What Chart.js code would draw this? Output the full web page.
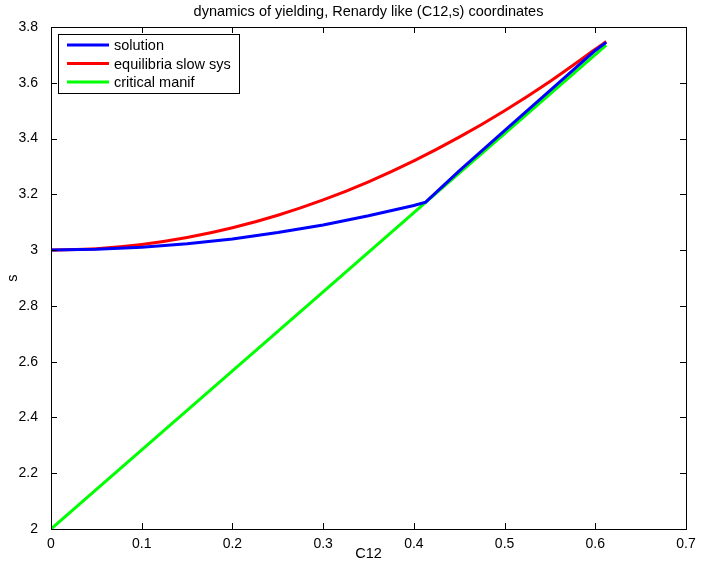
<!DOCTYPE html>
<html>
<head>
<meta charset="utf-8">
<script src="https://cdn.jsdelivr.net/npm/chart.js@4.4.0/dist/chart.umd.min.js"></script>
<style>
  body { margin: 0; background: #fff; }
  #wrap { width: 701px; height: 572px; }
</style>
</head>
<body>
<div id="wrap"><canvas id="myChart" width="701" height="572"></canvas></div>
<script>
// values
var solutionC12 = [0, 0.05, 0.1, 0.15, 0.2, 0.25, 0.3, 0.35, 0.4, 0.413, 0.45, 0.5, 0.55, 0.6, 0.612];
var solutionS   = [3.000, 3.003, 3.010, 3.023, 3.040, 3.063, 3.090, 3.123, 3.160, 3.172, 3.284, 3.428, 3.572, 3.716, 3.745];

var equilC12 = [0, 0.05, 0.1, 0.15, 0.2, 0.25, 0.3, 0.35, 0.4, 0.45, 0.5, 0.55, 0.6, 0.612];
var equilS   = [3.000, 3.005, 3.020, 3.045, 3.080, 3.125, 3.180, 3.245, 3.320, 3.405, 3.500, 3.605, 3.720, 3.748];

var critC12 = [0, 0.2, 0.413, 0.612];
var critS   = [2.000, 2.567, 3.171, 3.735];

var xTicks = [0, 0.1, 0.2, 0.3, 0.4, 0.5, 0.6, 0.7];
var yTicks = [2, 2.2, 2.4, 2.6, 2.8, 3, 3.2, 3.4, 3.6, 3.8];

function pts(xs, ys) {
  return xs.map(function (x, i) { return { x: x, y: ys[i] }; });
}
function fmt(v) { return String(Math.round(v * 10) / 10); }

var FONT = 'Liberation Sans, Arial, Helvetica, sans-serif';

// MATLAB style box, inward ticks and legend inside the axes
var matlabAxes = {
  id: 'matlabAxes',
  afterDraw: function (chart) {
    var c = chart.ctx, a = chart.chartArea;
    var xs = chart.scales.x, ys = chart.scales.y;
    c.save();
    c.strokeStyle = '#000';
    c.lineWidth = 1;
    c.strokeRect(a.left + 0.5, a.top + 0.5, a.right - a.left, a.bottom - a.top);
    c.beginPath();
    xTicks.forEach(function (t) {
      var px = Math.round(xs.getPixelForValue(t)) + 0.5;
      c.moveTo(px, a.bottom); c.lineTo(px, a.bottom - 6);
      c.moveTo(px, a.top); c.lineTo(px, a.top + 6);
    });
    yTicks.forEach(function (t) {
      var py = Math.round(ys.getPixelForValue(t)) + 0.5;
      c.moveTo(a.left, py); c.lineTo(a.left + 6, py);
      c.moveTo(a.right, py); c.lineTo(a.right - 6, py);
    });
    c.stroke();

    // legend box
    var lx = a.left + 7, ly = a.top + 7, lw = 181, lh = 59;
    c.fillStyle = '#fff';
    c.fillRect(lx, ly, lw, lh);
    c.strokeRect(lx + 0.5, ly + 0.5, lw, lh);
    c.font = '14.5px ' + FONT;
    c.textBaseline = 'middle';
    chart.data.datasets.forEach(function (ds, i) {
      var yy = ly + 11 + i * 18.5;
      c.strokeStyle = ds.borderColor;
      c.lineWidth = 3;
      c.beginPath();
      c.moveTo(lx + 9, yy); c.lineTo(lx + 51, yy);
      c.stroke();
      c.fillStyle = '#000';
      c.fillText(ds.label, lx + 56, yy + 1);
    });
    c.restore();
  }
};

var ctx = document.getElementById('myChart').getContext('2d');
var myChart = new Chart(ctx, {
  type: 'scatter',
  data: {
    datasets: [{
      label: 'solution',
      data: pts(solutionC12, solutionS),
      borderColor: '#0000ff',
      backgroundColor: '#0000ff',
      cubicInterpolationMode: 'default',
      tension: 0
    }, {
      label: 'equilibria slow sys',
      data: pts(equilC12, equilS),
      borderColor: '#ff0000',
      backgroundColor: '#ff0000'
    }, {
      label: 'critical manif',
      data: pts(critC12, critS),
      borderColor: '#00ff00',
      backgroundColor: '#00ff00'
    }]
  },
  options: {
    responsive: false,
    animation: false,
    showLine: true,
    elements: {
      point: { radius: 0, hoverRadius: 0 },
      line: { borderWidth: 3, cubicInterpolationMode: 'monotone', fill: false }
    },
    layout: { padding: { left: 0, right: 15, top: 0, bottom: 0 } },
    scales: {
      x: {
        type: 'linear',
        min: 0, max: 0.7,
        afterBuildTicks: function (s) { s.ticks = xTicks.map(function (v) { return { value: v }; }); },
        afterFit: function (s) { s.height = 43; },
        grid: { display: false },
        border: { display: false },
        ticks: { color: '#000', padding: -1, maxRotation: 0, callback: fmt, font: { size: 14, family: FONT } },
        title: { display: true, text: 'C12', color: '#000', padding: { top: 0, bottom: 9 }, font: { size: 14.5, family: FONT } }
      },
      y: {
        type: 'linear',
        min: 2, max: 3.8,
        afterBuildTicks: function (s) { s.ticks = yTicks.map(function (v) { return { value: v }; }); },
        afterFit: function (s) { s.width = 51; },
        grid: { display: false },
        border: { display: false },
        ticks: { color: '#000', padding: 5, callback: fmt, font: { size: 14, family: FONT } },
        title: { display: true, text: 's', color: '#000', padding: { top: 4, bottom: 0 }, font: { size: 14.5, family: FONT } }
      }
    },
    plugins: {
      legend: { display: false },
      tooltip: { enabled: false },
      title: {
        display: true,
        fullSize: false,
        text: 'dynamics of yielding, Renardy like (C12,s) coordinates',
        color: '#000',
        font: { size: 14.5, weight: 'normal', family: FONT },
        padding: { top: 3.5, bottom: 6.1 }
      }
    }
  },
  plugins: [matlabAxes]
});
</script>
</body>
</html>
